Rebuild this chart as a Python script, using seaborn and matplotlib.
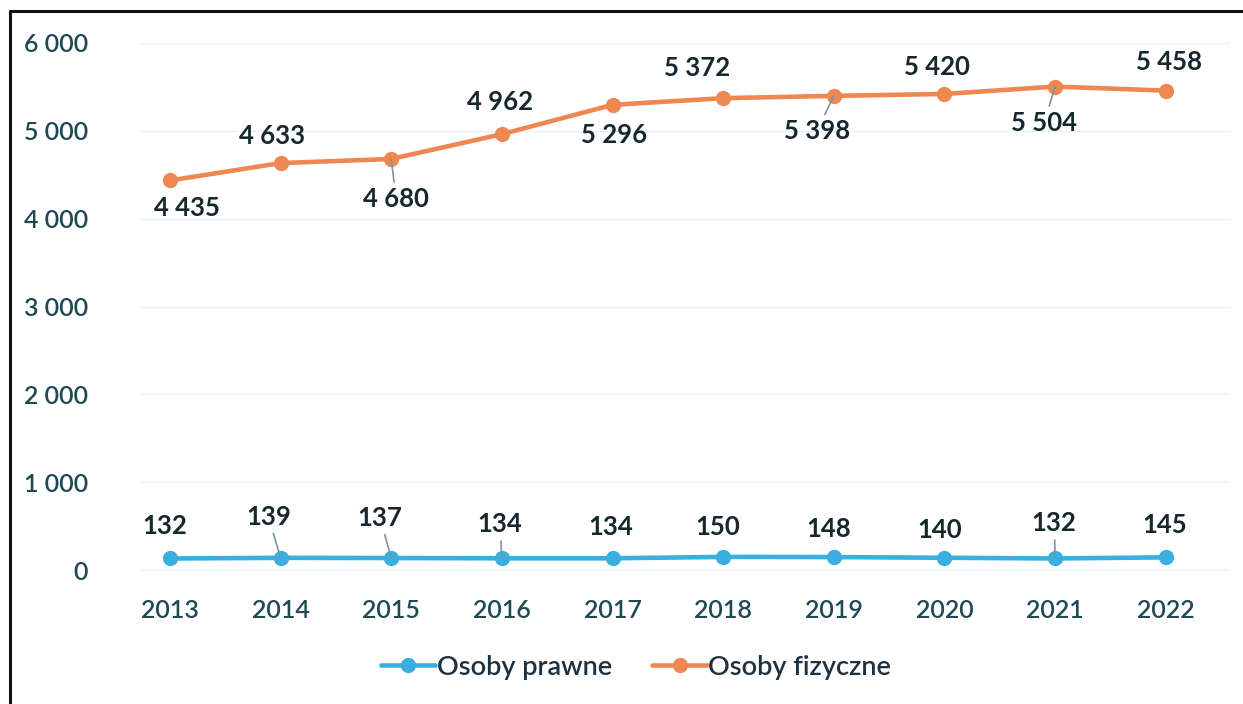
import matplotlib
matplotlib.use("Agg")
import matplotlib.pyplot as plt
import seaborn as sns
import pandas as pd
from matplotlib.lines import Line2D

years = ["2013", "2014", "2015", "2016", "2017", "2018", "2019", "2020", "2021", "2022"]
prawne = [132, 139, 137, 134, 134, 150, 148, 140, 132, 145]
fizyczne = [4435, 4633, 4680, 4962, 5296, 5372, 5398, 5420, 5504, 5458]
series_names = ["Osoby prawne", "Osoby fizyczne"]
yticks = [0, 1000, 2000, 3000, 4000, 5000, 6000]
ytick_labels = ["0", "1 000", "2 000", "3 000", "4 000", "5 000", "6 000"]

colors = {"Osoby prawne": "#3AAEE0", "Osoby fizyczne": "#EE8752"}

sns.set_theme(style="white")
plt.rcParams["font.family"] = ["Lato", "DejaVu Sans"]

df = pd.DataFrame({
    "rok": list(range(len(years))) * 2,
    "wartosc": prawne + fizyczne,
    "seria": [series_names[0]] * len(years) + [series_names[1]] * len(years),
})

fig = plt.figure(figsize=(12.43, 7.04), dpi=100)
ax = fig.add_axes([140 / 1243, 1 - 585 / 704, 1090 / 1243, 542 / 704])

sns.lineplot(data=df, x="rok", y="wartosc", hue="seria", palette=colors,
             marker="o", markersize=11, linewidth=3.3, markeredgewidth=0,
             ax=ax, legend=False)

ax.set_xlim(-0.27, 9.58)
ax.set_ylim(-170, 6000)
ax.set_yticks(yticks)
ax.set_yticklabels(ytick_labels)
ax.set_xticks(range(len(years)))
ax.set_xticklabels(years)
ax.set_xlabel("")
ax.set_ylabel("")
ax.grid(axis="y", color="#e4f1f6", linewidth=1)
for s in ax.spines.values():
    s.set_visible(False)
tick_color = "#1f4a54"
ax.tick_params(axis="y", length=0, pad=52 * 0.72, labelsize=18, labelcolor=tick_color)
ax.tick_params(axis="x", length=0, pad=10, labelsize=18, labelcolor=tick_color)
for lab in ax.get_xticklabels() + ax.get_yticklabels():
    lab.set_fontweight("semibold")

def fmt(v):
    return f"{v:,}".replace(",", " ")

# label offsets in pixels (dx, dy screen px; positive dy = down), and whether leader line
fiz_off = [(17, 28), (-8, -27), (5, 40), (-2, -32), (2, 30), (-26, -30), (-17, 35), (-8, -27), (-11, 36), (3, -29)]
fiz_lead = [False, False, True, False, False, False, True, False, True, False]
pra_off = [(-5, -32), (-12, -41), (-11, -40), (-2, -34), (-2, -31), (-5, -30), (-5, -28), (-5, -28), (-1, -35), (-1, -32)]
pra_lead = [False, True, True, True, False, False, False, False, True, False]

label_color = "#16282e"
for vals, offs, leads in [(fizyczne, fiz_off, fiz_lead), (prawne, pra_off, pra_lead)]:
    for i, v in enumerate(vals):
        dx, dy = offs[i]
        kw = {}
        if leads[i]:
            kw["arrowprops"] = dict(arrowstyle="-", color="#7f93a3", lw=1.2,
                                    shrinkA=1, shrinkB=0)
        ax.annotate(fmt(v), xy=(i, v), xytext=(dx * 0.72, -dy * 0.72),
                    textcoords="offset points", ha="center", va="center",
                    fontsize=18.5, fontweight="bold", color=label_color, **kw)

handles = [Line2D([0], [0], color=colors[n], lw=3.3, marker="o", markersize=11,
                  markeredgewidth=0) for n in series_names]
leg = fig.legend(handles, series_names, loc="center", bbox_to_anchor=(636 / 1243, 1 - 667 / 704),
                 ncol=2, frameon=False, fontsize=19.5, handlelength=2.0,
                 handletextpad=0.05, columnspacing=1.5)
for t in leg.get_texts():
    t.set_color("#1e3140")
    t.set_fontweight("semibold")

# scanned frame (left and top border)
fig.add_artist(Line2D([10 / 1243, 10 / 1243], [0, 1 - 11 / 704], color="#111111", lw=2.2,
                      transform=fig.transFigure))
fig.add_artist(Line2D([10 / 1243, 1], [1 - 11 / 704, 1 - 11 / 704], color="#111111", lw=2.2,
                      transform=fig.transFigure))

fig.savefig("out.png", dpi=100, facecolor="white")
